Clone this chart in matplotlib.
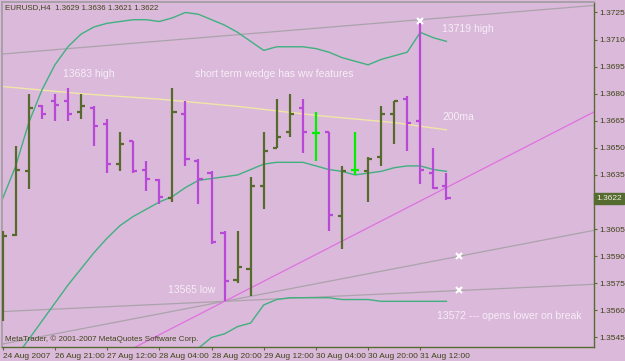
"""EURUSD H4 bar chart with bands, 200ma and hand-drawn wedge lines (MetaTrader look)."""

import matplotlib

matplotlib.use("Agg")
import matplotlib.pyplot as plt
import matplotlib.transforms as mtransforms
import numpy as np

# ---- OHLC, one entry per H4 bar (bar index 0..34) ----
opens = [1.3560, 1.3602, 1.3637, 1.3673, 1.3676, 1.3676, 1.3670, 1.3672, 1.3663, 1.3641,
         1.3654, 1.3638, 1.3632, 1.3622, 1.3669, 1.3643, 1.3636, 1.3603, 1.3577, 1.3583,
         1.3629, 1.3650, 1.3659, 1.3672, 1.3658, 1.3659, 1.3612, 1.3638, 1.3637, 1.3645,
         1.3669, 1.3677, 1.3665, 1.3636, 1.3629]
highs = [1.3604, 1.3651, 1.3680, 1.3674, 1.3680, 1.3683, 1.3680, 1.3673, 1.3666, 1.3659,
         1.3654, 1.3643, 1.3633, 1.3683, 1.3676, 1.3644, 1.3637, 1.3604, 1.3604, 1.3634,
         1.3659, 1.3677, 1.3680, 1.3677, 1.3670, 1.3659, 1.3640, 1.3659, 1.3645, 1.3673,
         1.3676, 1.3679, 1.3720, 1.3650, 1.3636]
lows = [1.3554, 1.3601, 1.3627, 1.3666, 1.3665, 1.3665, 1.3666, 1.3651, 1.3636, 1.3637,
        1.3636, 1.3626, 1.3619, 1.3620, 1.3640, 1.3619, 1.3597, 1.3565, 1.3575, 1.3568,
        1.3616, 1.3650, 1.3656, 1.3647, 1.3643, 1.3604, 1.3594, 1.3635, 1.3620, 1.3640,
        1.3652, 1.3648, 1.3630, 1.3627, 1.3621]
closes = [1.3601, 1.3638, 1.3672, 1.3669, 1.3674, 1.3669, 1.3673, 1.3662, 1.3641, 1.3652,
          1.3637, 1.3633, 1.3623, 1.3670, 1.3644, 1.3633, 1.3598, 1.3576, 1.3584, 1.3629,
          1.3648, 1.3656, 1.3669, 1.3659, 1.3658, 1.3613, 1.3637, 1.3638, 1.3644, 1.3669,
          1.3676, 1.3664, 1.3638, 1.3628, 1.3622]

# ---- indicator lines ----
band_upper = [1.3622, 1.3640, 1.3664, 1.3682, 1.3696, 1.3706, 1.3713, 1.3717, 1.3719, 1.3720,
              1.3721, 1.3721, 1.3720, 1.3722, 1.3725, 1.3724, 1.3721, 1.3718, 1.3714, 1.3709,
              1.3704, 1.3706, 1.3706, 1.3706, 1.3705, 1.3703, 1.3700, 1.3698, 1.3696, 1.3699,
              1.3701, 1.3703, 1.3714, 1.3711, 1.3709]
band_mid = [1.3524, 1.3534, 1.3544, 1.3554, 1.3564, 1.3574, 1.3583, 1.3592, 1.3600, 1.3607,
            1.3612, 1.3616, 1.3620, 1.3623, 1.3628, 1.3632, 1.3633, 1.3634, 1.3635, 1.3638,
            1.3641, 1.3642, 1.3642, 1.3642, 1.3640, 1.3638, 1.3637, 1.3635, 1.3636, 1.3637,
            1.3639, 1.3640, 1.3640, 1.3638, 1.3637]
# lower band is below the visible range before bar 14
band_lower_start = 14
band_lower = [1.3531, 1.3539, 1.3545, 1.3547, 1.3551, 1.3553, 1.3563, 1.3566, 1.3567, 1.3567,
              1.3567, 1.3567, 1.3566, 1.3566, 1.3566, 1.3565, 1.3565, 1.3565, 1.3565, 1.3565,
              1.3565]
ma200_bars = [0, 6, 12, 18, 24, 30, 34]
ma200 = [1.3684, 1.3680, 1.3677, 1.3673, 1.3668, 1.3664, 1.3660]

# ---- drawn trendlines: two anchor points (bar, price) each ----
top_line = [(0, 1.3702), (32, 1.3721)]
flat_line = [(17, 1.3565), (35, 1.3571)]
steep_line = [(17, 1.3565), (35, 1.3590)]
pink_line = [(17, 1.3565), (34, 1.3628)]
marks = [(32, 1.3720), (35, 1.3590), (35, 1.3571)]

notes = [
    (4.6, 1.3691, "13683 high"),
    (14.75, 1.3691, "short term wedge has ww features"),
    (33.7, 1.3716, "13719 high"),
    (33.7, 1.3667, "200ma"),
    (12.7, 1.3571, "13565 low"),
    (33.3, 1.3557, "13572 --- opens lower on break"),
]

tick_bars = [0, 4, 8, 12, 16, 20, 24, 28, 32]
tick_labels = ["24 Aug 2007", "26 Aug 21:00", "27 Aug 12:00", "28 Aug 04:00", "28 Aug 20:00",
               "29 Aug 12:00", "30 Aug 04:00", "30 Aug 20:00", "31 Aug 12:00"]
price_ticks = [1.3725, 1.3710, 1.3695, 1.3680, 1.3665, 1.3650, 1.3635, 1.3620,
               1.3605, 1.3590, 1.3575, 1.3560, 1.3545]

BG = "#dbb9da"
UP = "#566a2c"
DOWN = "#b848d8"
DOJI = "#00f000"
OLIVE = "#556b2f"
TXT = "#3f4418"

plt.rcParams["font.family"] = ["Liberation Sans", "DejaVu Sans"]

fig = plt.figure(figsize=(6.25, 3.61), dpi=100, facecolor=BG)
ax = fig.add_axes([2 / 625, 14 / 361, 592 / 625, 345 / 361], facecolor=BG)

x = np.arange(len(opens))
o, h, l, c = map(np.array, (opens, highs, lows, closes))
colors = np.where(c > o, UP, np.where(c < o, DOWN, DOJI))

# trendlines and indicators underneath the bars
for line, col in [(top_line, "#aba3ab"), (flat_line, "#aba3ab"),
                  (steep_line, "#aba3ab"), (pink_line, "#e070e0")]:
    ax.axline(line[0], line[1], color=col, lw=0.9, zorder=1)
ax.plot(ma200_bars, ma200, color="#f0e6a6", lw=1.0, zorder=1.5)
ax.plot(x, band_upper, color="#40b080", lw=1.0, zorder=1.5)
ax.plot(x, band_mid, color="#40b080", lw=1.0, zorder=1.5)
ax.plot(x[band_lower_start:], band_lower, color="#40b080", lw=1.0, zorder=1.5)

tw = 0.32
ax.vlines(x, l, h, colors=colors, lw=1.6, zorder=3)
ax.hlines(o, x - tw, x, colors=colors, lw=1.6, zorder=3)
ax.hlines(c, x, x + tw, colors=colors, lw=1.6, zorder=3)

mx, my = zip(*marks)
ax.plot(mx, my, "x", color="white", ms=4.5, mew=1.5, zorder=4)

for nx, ny, s in notes:
    ax.text(nx, ny, s, color="#f6eef6", fontsize=7.5, va="center", ha="left", zorder=5)

ax.text(0.005, 0.983, "EURUSD,H4  1.3629 1.3636 1.3621 1.3622", transform=ax.transAxes,
        fontsize=5.7, color=TXT, va="center", ha="left")
ax.text(0.005, 0.022, "MetaTrader, \u00a9 2001-2007 MetaQuotes Software Corp.",
        transform=ax.transAxes, fontsize=5.8, color=TXT, va="center", ha="left")

ax.set_xlim(-0.054, 45.31)
ax.set_ylim(1.35397, 1.37308)

ax.yaxis.tick_right()
ax.set_yticks(price_ticks)
ax.set_yticklabels([f"{p:.4f}" for p in price_ticks])
ax.set_xticks(tick_bars)
ax.set_xticklabels(tick_labels)
for lab in ax.get_xticklabels():
    lab.set_horizontalalignment("left")
ax.tick_params(axis="y", colors=OLIVE, labelcolor=TXT, labelsize=6, length=2.5, width=0.8, pad=1.5)
ax.tick_params(axis="x", colors=OLIVE, labelcolor=TXT, labelsize=6, length=2.5, width=0.8, pad=1.5)

for side in ("left", "top"):
    ax.spines[side].set_color("#a8a0a8")
    ax.spines[side].set_linewidth(1.4)
for side in ("right", "bottom"):
    ax.spines[side].set_color(OLIVE)
    ax.spines[side].set_linewidth(1.0)

# current price box on the right axis
trans = mtransforms.blended_transform_factory(ax.transAxes, ax.transData)
ax.text(1.004, closes[-1], f"{closes[-1]:.4f}", transform=trans, fontsize=6, color="#f0f0e0",
        va="center", ha="left", zorder=10, clip_on=False,
        bbox=dict(boxstyle="square,pad=0.25", fc=OLIVE, ec=OLIVE))

fig.savefig("out.png", dpi=100, facecolor=BG)
